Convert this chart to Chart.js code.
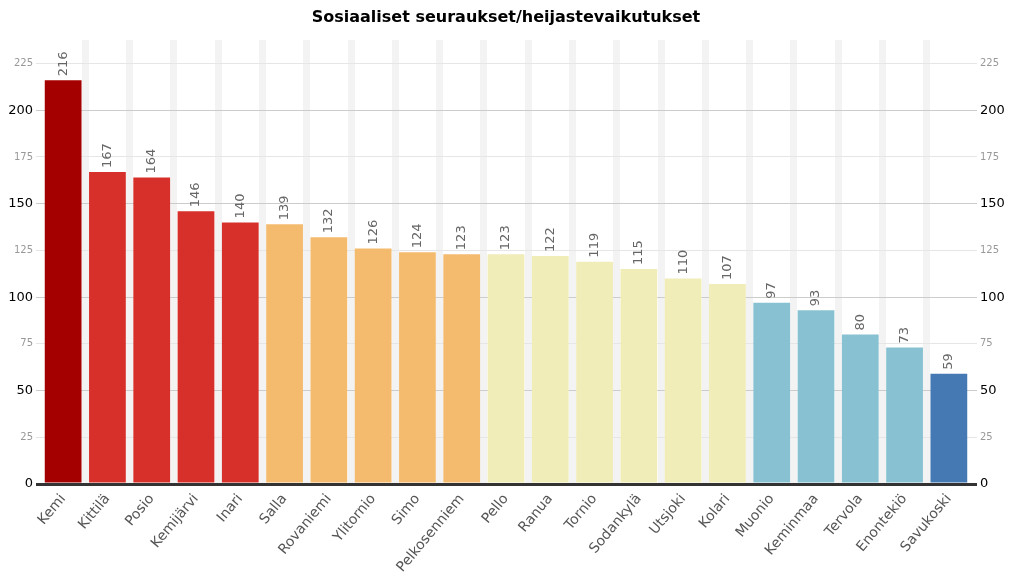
<!DOCTYPE html>
<html><head><meta charset="utf-8">
<script src="https://cdn.jsdelivr.net/npm/chart.js@4"></script>
<style>html,body{margin:0;padding:0;background:#fff}#wrap{width:1024px;height:574px}</style>
</head><body><div id="wrap"><canvas id="c" width="1024" height="574"></canvas></div>
<script>
const chartTitle = "Sosiaaliset seuraukset/heijastevaikutukset";
const municipalities = ["Kemi","Kittilä","Posio","Kemijärvi","Inari","Salla","Rovaniemi","Ylitornio","Simo","Pelkosenniemi","Pello","Ranua","Tornio","Sodankylä","Utsjoki","Kolari","Muonio","Keminmaa","Tervola","Enontekiö","Savukoski"];
const values = [216,167,164,146,140,139,132,126,124,123,123,122,119,115,110,107,97,93,80,73,59];
const barColors = ["#a50000","#d7302a","#d7302a","#d7302a","#d7302a","#f4bb6f","#f4bb6f","#f4bb6f","#f4bb6f","#f4bb6f","#f0edb8","#f0edb8","#f0edb8","#f0edb8","#f0edb8","#f0edb8","#88c2d2","#88c2d2","#88c2d2","#88c2d2","#4579b3"];
const yMax = 237.6;
const yStep = 25;
const FONT = "'DejaVu Sans', Verdana, sans-serif";

const gridColor = c => { const v = c.tick ? c.tick.value : null; if (v === 0) return '#333333'; return (v % 50 === 0) ? '#cccccc' : '#e6e6e6'; };
const gridWidth = c => (c.tick && c.tick.value === 0) ? 3 : 1;
const tickFont = c => (c.tick && c.tick.value % 50 === 0) ? {family: FONT, size: 13} : {family: FONT, size: 10};
const tickColor = c => (c.tick && c.tick.value % 50 === 0) ? '#000000' : '#999999';

const titlePlugin = {
  id: 'ttl',
  afterDraw(chart) {
    const ctx = chart.ctx, a = chart.chartArea;
    ctx.save();
    ctx.font = "bold 16px " + FONT;
    ctx.fillStyle = '#000';
    ctx.textAlign = 'center';
    ctx.textBaseline = 'middle';
    ctx.fillText(chartTitle, (a.left + a.right) / 2, 18);
    ctx.restore();
  }
};
const valueLabels = {
  id: 'vl',
  afterDatasetsDraw(chart) {
    const ctx = chart.ctx;
    const meta = chart.getDatasetMeta(0);
    ctx.save();
    ctx.font = "13px " + FONT;
    ctx.fillStyle = '#666666';
    ctx.textAlign = 'left';
    ctx.textBaseline = 'middle';
    meta.data.forEach((bar, i) => {
      ctx.save();
      ctx.translate(bar.x, bar.y - 4);
      ctx.rotate(-Math.PI / 2);
      ctx.fillText(String(values[i]), 0, 0);
      ctx.restore();
    });
    ctx.restore();
  }
};

new Chart(document.getElementById('c'), {
  type: 'bar',
  data: {
    labels: municipalities,
    datasets: [{ data: values, backgroundColor: barColors, borderWidth: 0, categoryPercentage: 1, barPercentage: 0.83 }]
  },
  options: {
    responsive: false,
    animation: false,
    layout: { padding: { top: 40, left: 0, right: 0, bottom: 0 } },
    plugins: { legend: { display: false }, title: { display: false }, tooltip: { enabled: false } },
    scales: {
      x: {
        grid: { offset: true, drawTicks: false, lineWidth: 7, color: c => (c.type === 'tick' && c.index > 0) ? '#f3f3f3' : 'rgba(0,0,0,0)' },
        border: { display: false },
        ticks: { autoSkip: false, minRotation: 50, maxRotation: 50, color: '#555555', font: { family: FONT, size: 14 }, padding: 7,
                 callback: function(v, i) { const s = this.getLabelForValue(v); return s.length > 12 ? s.slice(0, 12) : s; } },
        afterFit: s => { s.height = 90; }
      },
      y: {
        position: 'left', min: 0, max: yMax,
        grid: { color: gridColor, lineWidth: gridWidth, tickLength: 5, tickColor: gridColor, tickWidth: gridWidth },
        border: { display: false },
        ticks: { stepSize: yStep, includeBounds: false, font: tickFont, color: tickColor, padding: 3 },
        afterFit: s => { s.width = 41; }
      },
      y2: {
        position: 'right', min: 0, max: yMax,
        grid: { drawOnChartArea: false, color: gridColor, lineWidth: gridWidth, tickLength: 6, tickColor: gridColor, tickWidth: gridWidth },
        border: { display: false },
        ticks: { stepSize: yStep, includeBounds: false, font: tickFont, color: tickColor, padding: 3 },
        afterFit: s => { s.width = 53; }
      }
    }
  },
  plugins: [titlePlugin, valueLabels]
});
</script></body></html>
